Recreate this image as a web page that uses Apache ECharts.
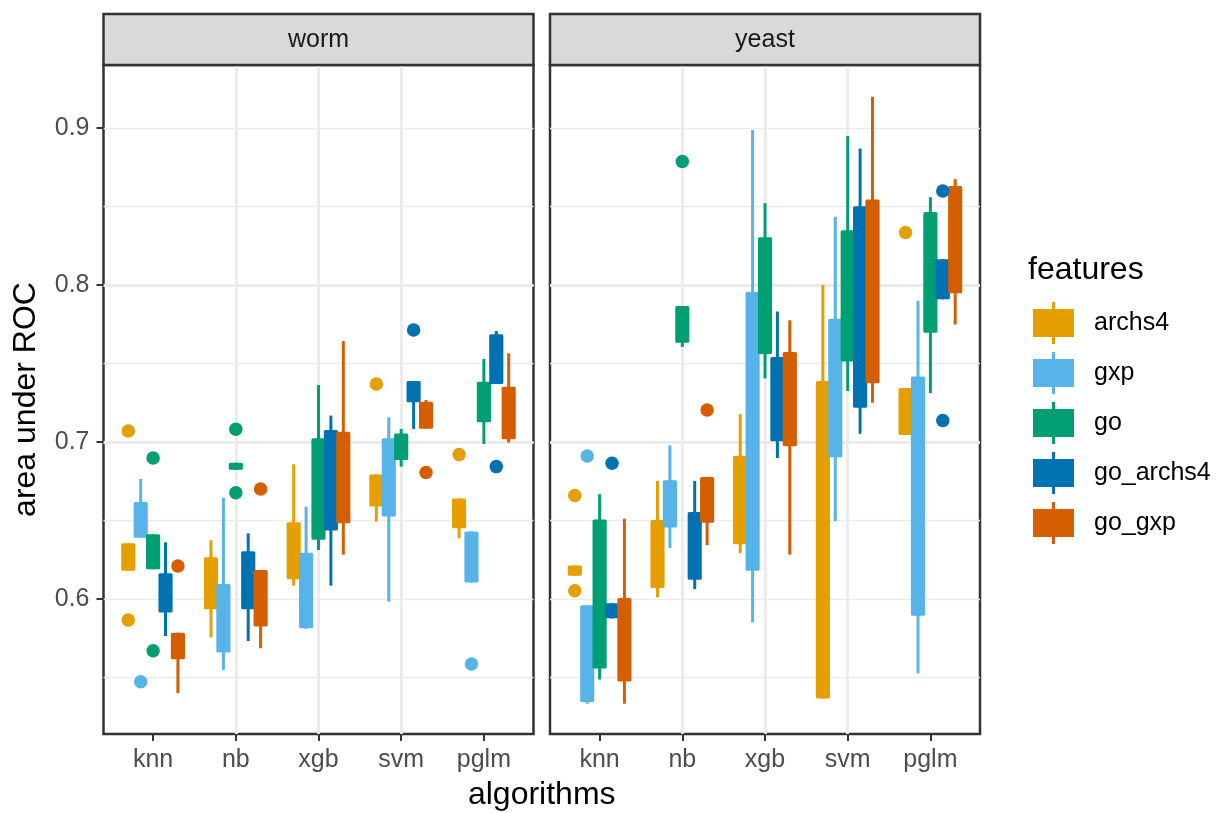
<!DOCTYPE html>
<html><head><meta charset="utf-8">
<script src="https://cdn.jsdelivr.net/npm/echarts@6/dist/echarts.min.js"></script>
<style>html,body{margin:0;padding:0;background:#fff}#c{width:1217px;height:813px}</style>
</head><body><div id="c"></div>
<script>
const facets = ['worm', 'yeast'];
const algorithms = ['knn', 'nb', 'xgb', 'svm', 'pglm'];
const features = ['archs4', 'gxp', 'go', 'go_archs4', 'go_gxp'];
const featureColors = ['#E69F00', '#56B4E9', '#009E73', '#0072B2', '#D55E00'];
const yTicks = [0.6, 0.7, 0.8, 0.9];

// box stats per algorithm: [lower whisker, q1, q3, upper whisker]
const wormArchs4 = [[0.618,0.619,0.6345,0.6355],[0.5756,0.5944,0.6256,0.6374],[0.6085,0.6135,0.6479,0.6858],[0.6493,0.6598,0.6784,0.6794],[0.6387,0.646,0.6631,0.6641]];
const wormGxp = [[0.639,0.640,0.6608,0.6764],[0.5548,0.5668,0.6086,0.6645],[0.581,0.5823,0.6285,0.6588],[0.5983,0.6535,0.7014,0.7157],[0.6104,0.6114,0.6421,0.6431]];
const wormGo = [[0.6189,0.6199,0.6402,0.6412],[0.6822,0.6832,0.6858,0.6868],[0.6312,0.6386,0.7014,0.7363],[0.6843,0.6895,0.7045,0.7083],[0.6987,0.7135,0.7374,0.7529]];
const wormGoArchs4 = [[0.5764,0.5923,0.6154,0.6361],[0.5732,0.5944,0.6294,0.6418],[0.6085,0.6445,0.7066,0.7168],[0.7083,0.7263,0.7379,0.7389],[0.7369,0.7379,0.7676,0.7707]];
const wormGoGxp = [[0.54,0.5626,0.5775,0.5785],[0.5686,0.5834,0.6175,0.6185],[0.6282,0.6492,0.7056,0.7643],[0.7083,0.7093,0.7247,0.7268],[0.6996,0.7027,0.7342,0.7565]];

const yeastArchs4 = [[0.6148,0.6158,0.6203,0.6213],[0.6011,0.608,0.6493,0.6752],[0.6291,0.6358,0.6903,0.7177],[0.5366,0.5376,0.7379,0.7999],[0.7044,0.7054,0.7334,0.7344]];
const yeastGxp = [[0.5333,0.5354,0.5951,0.5961],[0.6324,0.6464,0.6747,0.6978],[0.585,0.6189,0.7945,0.8987],[0.6495,0.6912,0.7775,0.8435],[0.5527,0.5903,0.7408,0.79]];
const yeastGo = [[0.5487,0.5567,0.6496,0.6667],[0.7605,0.7641,0.7857,0.7867],[0.7405,0.757,0.8294,0.8521],[0.7324,0.7522,0.8339,0.8949],[0.7311,0.7705,0.8455,0.8559]];
const yeastGoArchs4 = [[0.5876,0.5886,0.5964,0.5974],[0.6063,0.6132,0.6545,0.6752],[0.6897,0.7014,0.7532,0.7831],[0.7052,0.7228,0.8492,0.8869],[0.7908,0.7918,0.8155,0.8165]];
const yeastGoGxp = [[0.5333,0.5484,0.5996,0.6511],[0.6343,0.6495,0.6768,0.6778],[0.6282,0.6982,0.7564,0.7775],[0.725,0.7383,0.8535,0.9198],[0.7748,0.7956,0.8621,0.8674]];

// outliers: [algorithm, feature, value]
const wormOutliers = [
  ['knn','archs4',0.707],['knn','archs4',0.5866],['knn','gxp',0.5473],['knn','go',0.6898],['knn','go',0.567],['knn','go_gxp',0.621],
  ['nb','go',0.7081],['nb','go',0.6677],['nb','go_gxp',0.6701],
  ['svm','archs4',0.7369],['svm','go_archs4',0.7713],['svm','go_gxp',0.6805],
  ['pglm','archs4',0.692],['pglm','gxp',0.5586],['pglm','go_archs4',0.6843]
];
const yeastOutliers = [
  ['knn','archs4',0.6659],['knn','archs4',0.6052],['knn','gxp',0.691],['knn','go_archs4',0.6864],
  ['nb','go',0.8787],['nb','go_gxp',0.7203],
  ['pglm','archs4',0.8334],['pglm','go_archs4',0.8599],['pglm','go_archs4',0.7137]
];

const boxStats = {
  worm: [wormArchs4, wormGxp, wormGo, wormGoArchs4, wormGoGxp],
  yeast: [yeastArchs4, yeastGxp, yeastGo, yeastGoArchs4, yeastGoGxp]
};
const outliers = { worm: wormOutliers, yeast: yeastOutliers };

const FONT = '"Liberation Sans", Arial, Helvetica, sans-serif';
const DODGE = 0.15, BOXW = 0.135;
const Y_MIN = 0.514, Y_MAX = 0.9401;
const GRIDS = [{left: 103.5, top: 65, width: 430, height: 669}, {left: 550, top: 65, width: 430, height: 669}];
const STRIP_TOP = 14;
const SMALL = 25, BIG = 32;

function xPos(a, f) { return a + 1 + (f - 2) * DODGE; }

function renderBox(params, api) {
  const x = api.value(0);
  const lo = api.coord([x, api.value(1)]);
  const q1 = api.coord([x, api.value(2)]);
  const q3 = api.coord([x, api.value(3)]);
  const hi = api.coord([x, api.value(4)]);
  const hw = api.size([BOXW, 0])[0] / 2;
  const color = api.visual('color');
  return {
    type: 'group',
    children: [
      {type: 'line', shape: {x1: lo[0], y1: lo[1], x2: hi[0], y2: hi[1]}, style: {stroke: color, lineWidth: 3}},
      {type: 'rect', shape: {x: q3[0] - hw, y: q3[1], width: 2 * hw, height: q1[1] - q3[1]},
       style: {fill: color, stroke: color, lineWidth: 3, lineJoin: 'round'}}
    ]
  };
}

const grid = [], xAxis = [], yAxis = [], series = [], graphic = [];
facets.forEach((facet, i) => {
  const g = GRIDS[i];
  grid.push(Object.assign({show: true, borderColor: '#333333', borderWidth: 2.5, backgroundColor: '#ffffff'}, g));
  xAxis.push({
    type: 'value', gridIndex: i, min: 0.4, max: 5.6, splitNumber: 5, minInterval: 1, maxInterval: 1,
    axisLine: {show: false},
    axisTick: {show: true, length: 7, customValues: [1, 2, 3, 4, 5], lineStyle: {color: '#333333', width: 2}},
    axisLabel: {customValues: [1, 2, 3, 4, 5], formatter: v => algorithms[Math.round(v) - 1] || '',
      fontSize: SMALL, color: '#4d4d4d', margin: 14, fontFamily: FONT},
    splitLine: {show: true, showMinLine: false, showMaxLine: false, lineStyle: {color: '#ebebeb', width: 2.8}}
  });
  yAxis.push({
    type: 'value', gridIndex: i, min: Y_MIN, max: Y_MAX, splitNumber: 4, minInterval: 0.1, maxInterval: 0.1,
    axisLine: {show: false},
    axisTick: {show: i === 0, length: 7, customValues: yTicks, lineStyle: {color: '#333333', width: 2}},
    axisLabel: {show: i === 0, customValues: yTicks, formatter: v => v.toFixed(1),
      fontSize: SMALL, color: '#4d4d4d', margin: 14, fontFamily: FONT},
    splitLine: {show: true, showMinLine: false, showMaxLine: false, lineStyle: {color: '#ebebeb', width: 2.8}},
    name: i === 0 ? 'area under ROC' : '', nameLocation: 'middle', nameGap: 61,
    nameTextStyle: {fontSize: BIG, color: '#000000', fontFamily: FONT}
  });
  yAxis.push({
    type: 'value', gridIndex: i, min: Y_MIN, max: Y_MAX, splitNumber: 8, minInterval: 0.05, maxInterval: 0.05,
    axisLine: {show: false}, axisTick: {show: false}, axisLabel: {show: false},
    splitLine: {show: true, showMinLine: false, showMaxLine: false, lineStyle: {color: '#ebebeb', width: 1.4}}
  });
  features.forEach((feat, f) => {
    series.push({
      type: 'custom', name: feat, xAxisIndex: i, yAxisIndex: 2 * i,
      itemStyle: {color: featureColors[f]},
      renderItem: renderBox,
      encode: {x: 0, y: [1, 2, 3, 4]},
      data: boxStats[facet][f].map((s, a) => [xPos(a, f)].concat(s)),
      z: 3
    });
    series.push({
      type: 'scatter', name: feat, xAxisIndex: i, yAxisIndex: 2 * i,
      symbol: 'circle', symbolSize: 13.5,
      itemStyle: {color: featureColors[f], opacity: 1},
      data: outliers[facet].filter(o => o[1] === feat).map(o => [xPos(algorithms.indexOf(o[0]), f), o[2]]),
      z: 3
    });
  });
  graphic.push({
    type: 'rect', shape: {x: g.left, y: STRIP_TOP, width: g.width, height: g.top - STRIP_TOP},
    style: {fill: '#d9d9d9', stroke: '#333333', lineWidth: 2.5}, z: 10
  });
  graphic.push({
    type: 'text', x: g.left + g.width / 2, y: (STRIP_TOP + g.top) / 2 + 1,
    style: {text: facet, fill: '#1a1a1a', fontSize: SMALL, fontFamily: FONT, align: 'center', verticalAlign: 'middle'}, z: 11
  });
});

graphic.push({
  type: 'text', x: (GRIDS[0].left + GRIDS[1].left + GRIDS[1].width) / 2, y: 795,
  style: {text: 'algorithms', fill: '#000000', fontSize: BIG, fontFamily: FONT, align: 'center', verticalAlign: 'middle'}
});
graphic.push({
  type: 'text', x: 1028, y: 270,
  style: {text: 'features', fill: '#000000', fontSize: BIG, fontFamily: FONT, align: 'left', verticalAlign: 'middle'}
});

const chart = echarts.init(document.getElementById('c'), null, {renderer: 'canvas'});
chart.setOption({
  animation: false,
  backgroundColor: '#ffffff',
  grid, xAxis, yAxis, series, graphic,
  legend: {
    orient: 'vertical', left: 1033, top: 302, padding: 0, itemGap: 8,
    itemWidth: 41, itemHeight: 42, selectedMode: false,
    icon: 'path://M0,7H41V35H0Z M19,0H22V7H19Z M19,35H22V42H19Z',
    data: features,
    textStyle: {fontSize: SMALL, color: '#000000', fontFamily: FONT, padding: [0, 0, 0, 15]}
  }
});
</script></body></html>
